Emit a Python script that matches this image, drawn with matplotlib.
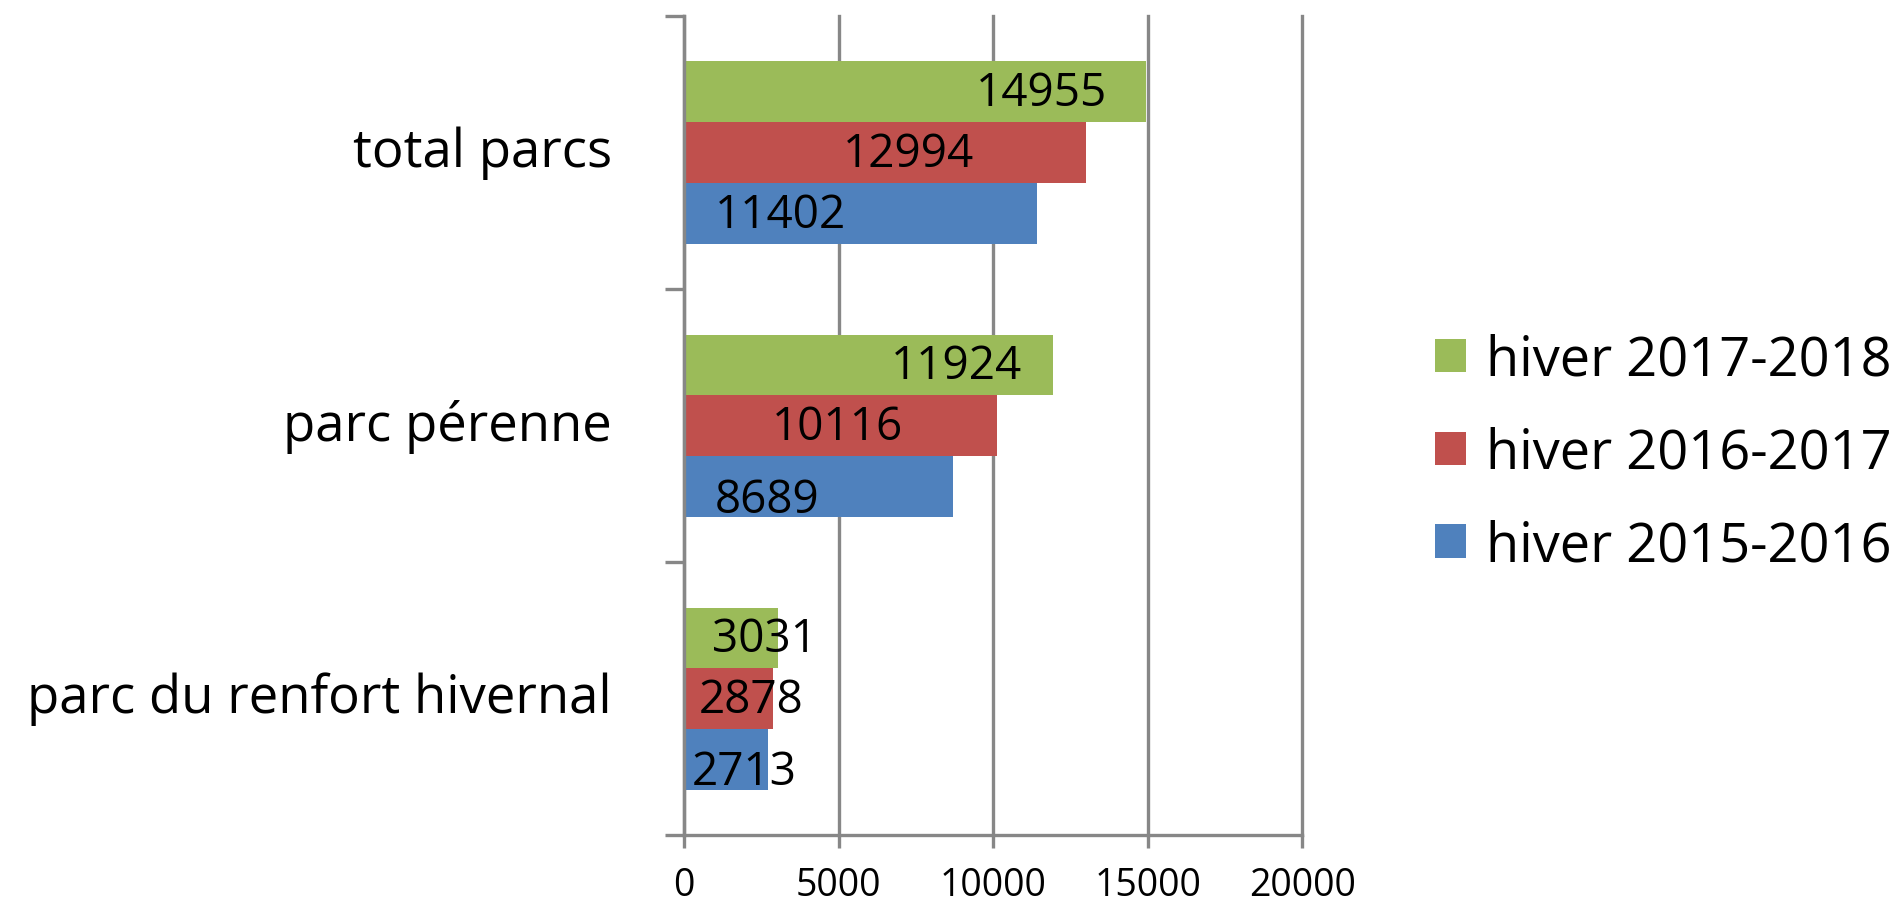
import matplotlib
matplotlib.use("Agg")
import matplotlib.pyplot as plt
import numpy as np

plt.rcParams['font.family'] = ['Open Sans', 'DejaVu Sans']

categories = ["parc du renfort hivernal", "parc pérenne", "total parcs"]
series_names = ["hiver 2015-2016", "hiver 2016-2017", "hiver 2017-2018"]
hiver_2015_2016 = [2713, 8689, 11402]
hiver_2016_2017 = [2878, 10116, 12994]
hiver_2017_2018 = [3031, 11924, 14955]
x_ticks = [0, 5000, 10000, 15000, 20000]

series_values = [hiver_2015_2016, hiver_2016_2017, hiver_2017_2018]
colors = ["#4F81BD", "#C0504D", "#9BBB59"]
# where each value label sits along its bar, as a fraction of the bar length
label_anchor = [[0.716, 0.31, 0.275], [0.753, 0.49, 0.56], [0.854, 0.74, 0.773]]
# vertical nudge of each value label, in points (negative = down)
label_dy = [[-9, -10, -1], [-1, -1, -1], [-1, -1, -1]]

grid_color = "#878787"

fig = plt.figure(figsize=(18.99, 9.04), dpi=100)
ax = fig.add_axes([0.3602, 0.0752, 0.3256, 0.9060])

n = len(series_values)
bar_h = 1.0 / (n + 1.5)
y = np.arange(len(categories))

for i, (vals, col) in enumerate(zip(series_values, colors)):
    offs = (i - (n - 1) / 2) * bar_h
    ax.barh(y + offs, vals, height=bar_h, color=col, zorder=3,
            label=series_names[i])
    for j, v in enumerate(vals):
        ax.annotate(f"{v}", xy=(v * label_anchor[i][j], y[j] + offs),
                    xytext=(0, label_dy[i][j]), textcoords="offset points",
                    ha="center", va="center", fontsize=33, color="black",
                    zorder=4)

ax.set_xlim(x_ticks[0], x_ticks[-1])
ax.set_ylim(-0.5, len(categories) - 0.5)
ax.set_xticks(x_ticks)
ax.set_xticklabels([str(t) for t in x_ticks], fontsize=27)
ax.tick_params(axis="x", length=9, width=2.4, color=grid_color, pad=13)

ax.set_yticks(np.arange(-0.5, len(categories), 1.0))
ax.set_yticklabels([])
ax.tick_params(axis="y", length=14, width=2.4, color=grid_color)
for j, cat in enumerate(categories):
    ax.annotate(cat, xy=(0, y[j]), xycoords=("axes fraction", "data"),
                xytext=(-52, 0), textcoords="offset points",
                ha="right", va="center", fontsize=38)

ax.grid(axis="x", color=grid_color, linewidth=2.4, zorder=0)
for gl in ax.xaxis.get_gridlines():
    gl.set_clip_on(False)
for side in ("top", "right"):
    ax.spines[side].set_visible(False)
for side in ("left", "bottom"):
    ax.spines[side].set_color(grid_color)
    ax.spines[side].set_linewidth(2.4)
ax.spines["left"].set_zorder(5)

handles, labels = ax.get_legend_handles_labels()
leg = fig.legend(handles[::-1], labels[::-1], loc="center left",
                 bbox_to_anchor=(0.730, 0.498), frameon=False, fontsize=39,
                 handlelength=0.57, handleheight=0.57, handletextpad=0.38,
                 labelspacing=0.70)

fig.savefig("out.png", dpi=100)
